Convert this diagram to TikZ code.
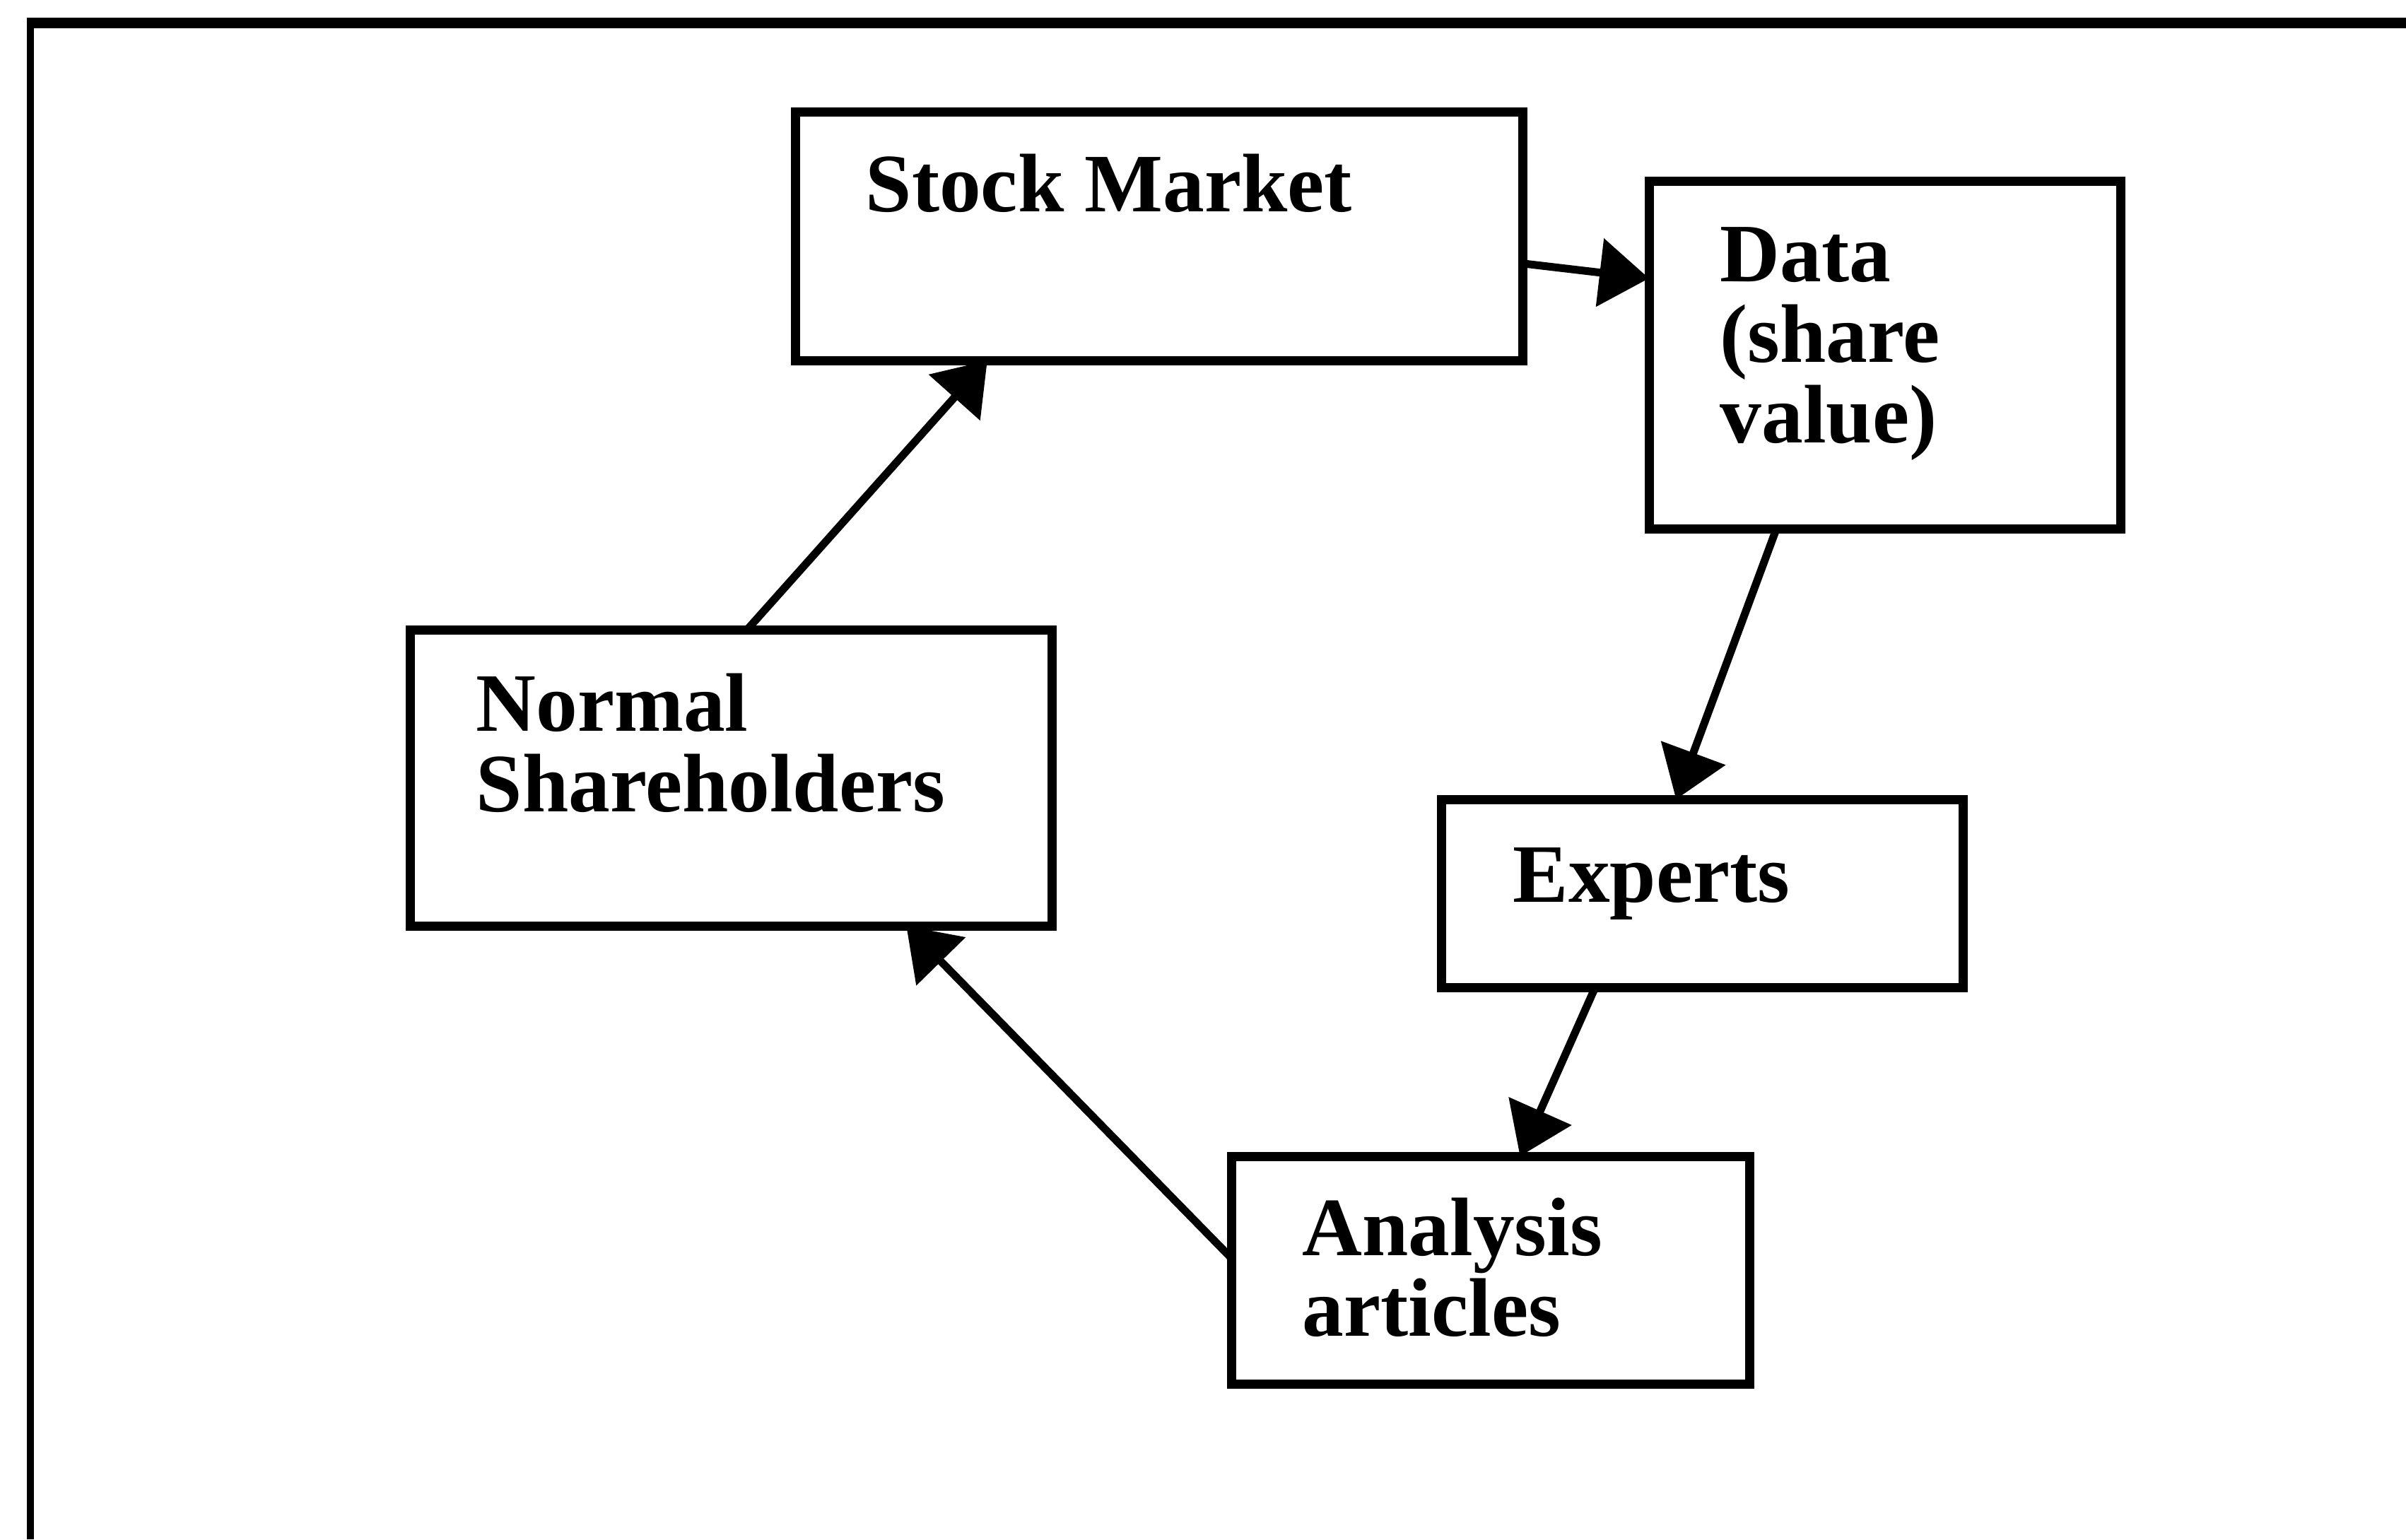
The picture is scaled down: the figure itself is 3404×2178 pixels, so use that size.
\documentclass[tikz,border=0pt]{standalone}
\usepackage{fontspec}
\setmainfont{Liberation Serif}
\usetikzlibrary{arrows.meta,calc}
\begin{document}
\begin{tikzpicture}[x=0.01cm,y=-0.01cm,
  box/.style={draw, line width=1.3mm, rectangle, anchor=north west,
    inner sep=0pt, outer sep=0pt},
  lbl/.style={anchor=base west, inner sep=0pt, align=left,
    font=\fontsize{33.4}{32.4}\selectfont\bfseries},
  flow/.style={line width=1.1mm, -{Triangle[length=7mm,width=9.5mm]}}]
% page and outer frame
\fill[white] (0,0) rectangle (3404,2178);
\useasboundingbox (0,0) rectangle (3404,2178);
\draw[line width=1mm] (43,2178) -- (43,27);
\draw[line width=1.5mm] (38,32) -- (3404,32);
% boxes
\node[box, minimum width=10.29cm, minimum height=3.52cm] (sm) at (1125,158) {};
\node[box, minimum width=6.67cm, minimum height=4.92cm] (data) at (2333,256) {};
\node[box, minimum width=9.08cm, minimum height=4.19cm] (ns) at (580,891) {};
\node[box, minimum width=7.38cm, minimum height=2.66cm] (ex) at (2039,1131) {};
\node[box, minimum width=7.33cm, minimum height=3.22cm] (an) at (1742,1636) {};
% labels (base anchor sits on the last line of each label)
\node[lbl] (smtext) at (1224,299) {Stock Market};
\node[lbl] (datatext) at (2433,626) {Data\\(share\\value)};
\node[lbl] (nstext) at (673,1148) {Normal\\Shareholders};
\node[lbl] (extext) at (2140,1276) {Experts};
\node[lbl] (antext) at (1842,1890) {Analysis\\articles};
% flow of information
\draw[flow] ($(sm.north east)!0.61!(sm.south east)$) -- ($(data.north west)!0.28!(data.south west)$);
\draw[flow] ($(data.south west)!0.27!(data.south east)$) -- ($(ex.north west)!0.45!(ex.north east)$);
\draw[flow] ($(ex.south west)!0.295!(ex.south east)$) -- ($(an.north west)!0.557!(an.north east)$);
\draw[flow] ($(an.north west)!0.447!(an.south west)$) -- ($(ns.south west)!0.773!(ns.south east)$);
\draw[flow] ($(ns.north west)!0.525!(ns.north east)$) -- ($(sm.south west)!0.264!(sm.south east)$);
\end{tikzpicture}
\end{document}
